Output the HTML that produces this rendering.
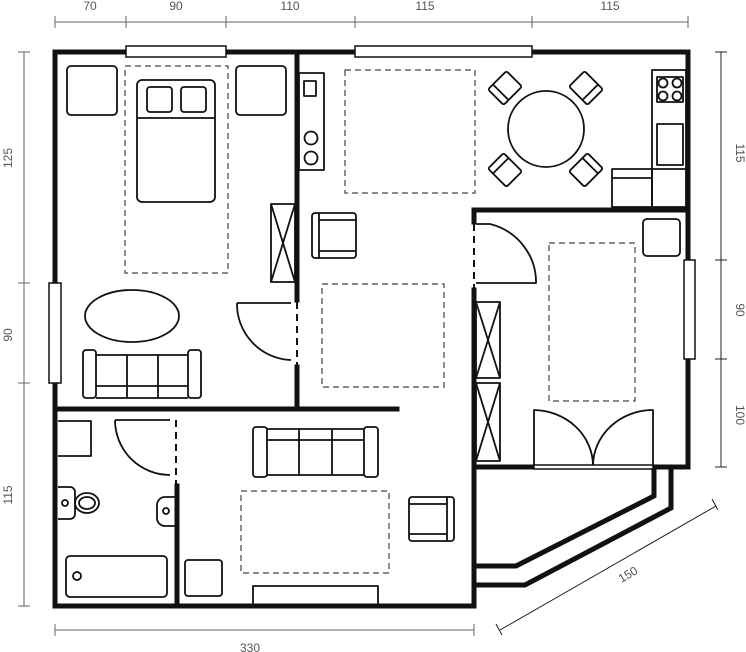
<!DOCTYPE html>
<html><head><meta charset="utf-8"><style>
html,body{margin:0;padding:0;background:#fff}
svg{display:block}
text{font-family:"Liberation Sans",sans-serif;font-size:12px;fill:#555}
</style></head><body>
<svg width="746" height="652" viewBox="0 0 746 652" xmlns="http://www.w3.org/2000/svg">
<!-- dimension lines -->
<g stroke="#666" stroke-width="1" fill="none">
<line x1="55" y1="22" x2="688" y2="22"/>
<line x1="55" y1="16" x2="55" y2="28"/><line x1="126" y1="16" x2="126" y2="28"/><line x1="226" y1="16" x2="226" y2="28"/><line x1="355" y1="16" x2="355" y2="28"/><line x1="532" y1="16" x2="532" y2="28"/><line x1="688" y1="16" x2="688" y2="28"/>
<line x1="24" y1="52" x2="24" y2="606"/>
<line x1="18" y1="52" x2="30" y2="52"/><line x1="18" y1="283" x2="30" y2="283"/><line x1="18" y1="383" x2="30" y2="383"/><line x1="18" y1="606" x2="30" y2="606"/>
<line x1="55" y1="630" x2="474" y2="630"/>
<line x1="55" y1="624" x2="55" y2="636"/><line x1="474" y1="624" x2="474" y2="636"/>
</g>
<g stroke="#222" stroke-width="1" fill="none">
<line x1="721" y1="52" x2="721" y2="467"/>
<line x1="715" y1="52" x2="727" y2="52"/><line x1="715" y1="260" x2="727" y2="260"/><line x1="715" y1="359" x2="727" y2="359"/><line x1="715" y1="467" x2="727" y2="467"/>
<line x1="500" y1="630" x2="716" y2="506"/>
<line x1="496" y1="624" x2="502" y2="635"/><line x1="712" y1="499" x2="718" y2="510"/>
</g>
<text x="90" y="10" text-anchor="middle">70</text>
<text x="176" y="10" text-anchor="middle">90</text>
<text x="290" y="10" text-anchor="middle">110</text>
<text x="425" y="10" text-anchor="middle">115</text>
<text x="610" y="10" text-anchor="middle">115</text>
<text x="250" y="652" text-anchor="middle">330</text>
<text transform="translate(12,158) rotate(-90)" text-anchor="middle">125</text>
<text transform="translate(12,335) rotate(-90)" text-anchor="middle">90</text>
<text transform="translate(12,495) rotate(-90)" text-anchor="middle">115</text>
<text transform="translate(736,153) rotate(90)" text-anchor="middle">115</text>
<text transform="translate(736,310) rotate(90)" text-anchor="middle">90</text>
<text transform="translate(736,415) rotate(90)" text-anchor="middle">100</text>
<text transform="translate(630,578) rotate(-30)" text-anchor="middle">150</text>

<!-- walls -->
<g stroke="#111" stroke-width="5" fill="none" stroke-linecap="square">
<polyline points="55,283 55,52 688,52 688,260"/>
<line x1="688" y1="359" x2="688" y2="467"/>
<line x1="55" y1="383" x2="55" y2="606"/>
<line x1="55" y1="606" x2="474" y2="606"/>
<line x1="297" y1="52" x2="297" y2="300"/>
<line x1="297" y1="367" x2="297" y2="408"/>
<line x1="55" y1="409" x2="397" y2="409"/>
<line x1="177" y1="486" x2="177" y2="606"/>
<polyline points="474,222 474,210 688,210"/>
<line x1="474" y1="290" x2="474" y2="606"/>
<line x1="474" y1="467" x2="534" y2="467"/>
<line x1="652" y1="467" x2="688" y2="467"/>
<polyline points="654,467 654,496 516,566 474,566"/>
<polyline points="671,467 671,508 525,585 474,585"/>
</g>
<!-- windows -->
<g stroke="#111" stroke-width="1.5" fill="#fff">
<rect x="126" y="46" width="100" height="11"/>
<rect x="355" y="46" width="177" height="11"/>
<rect x="49" y="283" width="12" height="100"/>
<rect x="684" y="260" width="11" height="99"/>
<rect x="534" y="465" width="119" height="4"/>
</g>
<!-- door gaps dashed -->
<g stroke="#111" stroke-width="2" stroke-dasharray="7,5" fill="none">
<line x1="297" y1="302" x2="297" y2="366"/>
<line x1="176" y1="420" x2="176" y2="485"/>
<line x1="474" y1="224" x2="474" y2="290"/>
</g>
<!-- furniture -->
<g stroke="#111" stroke-width="1.8" fill="none" stroke-linejoin="round">
<!-- bedroom -->
<rect x="67" y="66" width="50" height="49" rx="4"/>
<rect x="236" y="66" width="50" height="49" rx="4"/>
<rect x="137" y="80" width="78" height="122" rx="5"/>
<line x1="137" y1="118" x2="215" y2="118"/>
<rect x="147" y="87" width="25" height="25" rx="3"/>
<rect x="181" y="87" width="25" height="25" rx="3"/>
<rect x="271" y="204" width="24" height="78"/>
<line x1="271" y1="204" x2="295" y2="282"/><line x1="295" y1="204" x2="271" y2="282"/>
<ellipse cx="132" cy="316" rx="47" ry="26"/>
<rect x="83" y="350" width="13" height="48" rx="3"/>
<rect x="188" y="350" width="13" height="48" rx="3"/>
<path d="M96,355 H188 M96,386 H188 M96,398 H188 M127,355 V398 M158,355 V398"/>
<path d="M237,303 H291 M237,303 A56,56 0 0 0 291,360"/>
<!-- kitchenette left -->
<rect x="299" y="73" width="25" height="97"/>
<rect x="304" y="81" width="12" height="15"/>
<circle cx="311" cy="138" r="6.5"/><circle cx="311" cy="158" r="6.5"/>
<!-- living armchair top -->
<rect x="312" y="213" width="44" height="45" rx="3"/>
<path d="M319,213 V258 M319,220 H356 M319,251 H356"/>
<!-- table -->
<circle cx="546" cy="129" r="38"/>
<g transform="translate(505,88) rotate(45)"><rect x="-11" y="-13" width="22" height="26" rx="2"/><line x1="-11" y1="6" x2="11" y2="6"/></g>
<g transform="translate(586,88) rotate(-45)"><rect x="-11" y="-13" width="22" height="26" rx="2"/><line x1="-11" y1="6" x2="11" y2="6"/></g>
<g transform="translate(505,170) rotate(135)"><rect x="-11" y="-13" width="22" height="26" rx="2"/><line x1="-11" y1="6" x2="11" y2="6"/></g>
<g transform="translate(586,170) rotate(-135)"><rect x="-11" y="-13" width="22" height="26" rx="2"/><line x1="-11" y1="6" x2="11" y2="6"/></g>
<!-- kitchen right -->
<rect x="652" y="70" width="34" height="137"/>
<rect x="657" y="77" width="26" height="25"/>
<circle cx="663" cy="83" r="4.5"/><circle cx="677" cy="83" r="4.5"/><circle cx="663" cy="96" r="4.5"/><circle cx="677" cy="96" r="4.5"/>
<rect x="657" y="124" width="26" height="41"/>
<line x1="652" y1="169" x2="686" y2="169"/>
<rect x="612" y="169" width="40" height="38"/>
<line x1="612" y1="178" x2="652" y2="178"/>
<!-- bedroom 2 -->
<path d="M476,224 H490 A61,60 0 0 1 536,283 H476"/>
<rect x="643" y="219" width="37" height="37" rx="4"/>
<rect x="476" y="302" width="24" height="76"/>
<line x1="476" y1="302" x2="500" y2="378"/><line x1="500" y1="302" x2="476" y2="378"/>
<rect x="476" y="383" width="24" height="78"/>
<line x1="476" y1="383" x2="500" y2="461"/><line x1="500" y1="383" x2="476" y2="461"/>
<path d="M534,465 V410 A60,56 0 0 1 593,465 M653,465 V410 A60,56 0 0 0 593,465"/>
<!-- bathroom -->
<path d="M58,421 H91 V456 H58"/>
<path d="M58,487 H70 A5,5 0 0 1 75,492 V514 A5,5 0 0 1 70,519 H58"/>
<ellipse cx="87" cy="503" rx="12" ry="10"/>
<ellipse cx="87" cy="503" rx="8" ry="6"/>
<circle cx="65" cy="503" r="3"/>
<path d="M175,497 H165 A8,8 0 0 0 157,505 V518 A8,8 0 0 0 165,526 H175"/>
<circle cx="166" cy="511" r="3"/>
<rect x="66" y="556" width="101" height="41" rx="4"/>
<circle cx="77" cy="576" r="4"/>
<path d="M115,420 H170 M115,420 A55,55 0 0 0 170,475"/>
<!-- living lower -->
<rect x="185" y="560" width="37" height="36" rx="3"/>
<rect x="253" y="427" width="14" height="50" rx="3"/>
<rect x="364" y="427" width="14" height="50" rx="3"/>
<path d="M267,429 H364 M267,440 H364 M267,475 H364 M299,429 V475 M332,429 V475"/>
<rect x="409" y="497" width="45" height="44" rx="3"/>
<path d="M447,497 V541 M409,504 H447 M409,534 H447"/>
<path d="M253,604 V586 H378 V604"/>
</g>
<!-- dashed areas -->
<g stroke="#444" stroke-width="1.2" stroke-dasharray="6,4" fill="none">
<rect x="125" y="66" width="103" height="207"/>
<rect x="345" y="70" width="130" height="123"/>
<rect x="322" y="284" width="122" height="103"/>
<rect x="549" y="243" width="86" height="158"/>
<rect x="241" y="491" width="148" height="82"/>
</g>
</svg>
</body></html>
